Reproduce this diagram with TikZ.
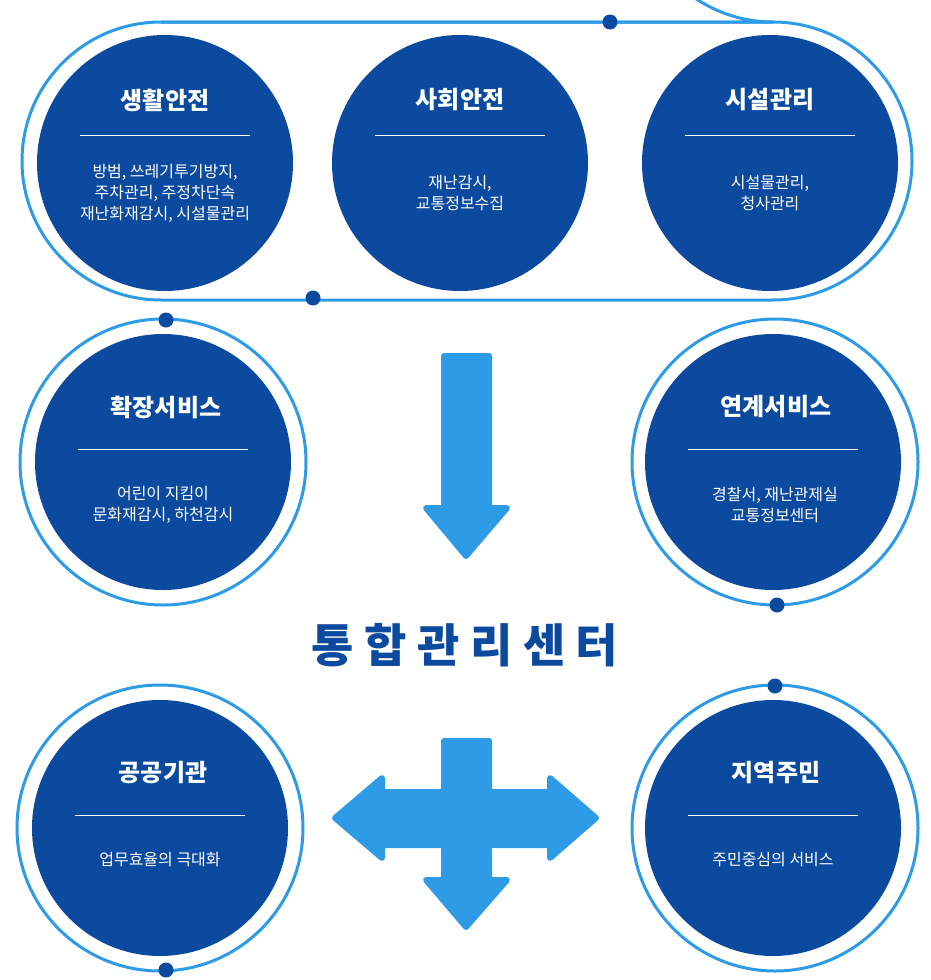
\documentclass[tikz,border=0pt]{standalone}
\usepackage{fontspec}
\setmainfont{Noto Sans CJK KR}
\newfontfamily\kb{Noto Sans CJK KR Bold}
\begin{document}
\begin{tikzpicture}[x=1pt,y=-1pt]
\definecolor{dblue}{HTML}{0B4A9E}
\definecolor{lblue}{HTML}{2E9BE6}
\tikzset{
 circ/.style={circle,fill=dblue,minimum size=256pt,inner sep=0pt},
 ring/.style={draw=lblue,line width=3pt},
 dot/.style={circle,fill=dblue,minimum size=15pt,inner sep=0pt},
 ttl/.style={text=white,font=\fontsize{24}{28}\bfseries},
 body/.style={text=white,font=\fontsize{16}{21}\selectfont,align=center},
 arr/.style={fill=lblue,draw=lblue,line width=6pt,line join=round},
}
\useasboundingbox (0,0) rectangle (930,980);
% top group
\draw[ring] (161,22) -- (773,22) arc[start angle=-90,end angle=90,radius=-139] ;
\draw[ring,rounded corners=139pt] (22,22) rectangle (912,300);
\foreach \n/\x/\t/\b in {a/165/생활안전/{방범, 쓰레기투기방지,\\주차관리, 주정차단속\\재난화재감시, 시설물관리},
  b/460/사회안전/{재난감시,\\교통정보수집}, c/770/시설관리/{시설물관리,\\청사관리}}{
 \node[circ] (\n) at (\x,163) {};
 \node[ttl] (\n t) at (\x,100) {\t};
 \draw[white,line width=0.6pt] (\x-85,135) -- (\x+85,135);
 \node[body] (\n b) at (\x,193) {\b};
}
\node[dot] (d1) at (610,22) {};
\node[dot] (d2) at (313,298) {};
% middle
\foreach \n/\x/\y/\rx/\t/\b in {l/163/462/163/확장서비스/{어린이 지킴이\\문화재감시, 하천감시},
  r/773/462/775/연계서비스/{경찰서, 재난관제실\\교통정보센터},
  bl/160/828/160/공공기관/{업무효율의 극대화},
  br/773/828/775/지역주민/{주민중심의 서비스}}{
 \draw[ring] (\rx,\y) circle (143);
 \node[circ] (\n) at (\x,\y) {};
 \node[ttl] (\n t) at (\x+3,\y-55) {\t};
 \draw[white,line width=0.6pt] (\x-85,\y-13) -- (\x+85,\y-13);
}
\node[body] (lb) at (163,505) {어린이 지킴이\\문화재감시, 하천감시};
\node[body] (rb) at (775,505) {경찰서, 재난관제실\\교통정보센터};
\node[body] (blb) at (160,860) {업무효율의 극대화};
\node[body] (brb) at (773,860) {주민중심의 서비스};
\node[dot] (d3) at (166,320) {};
\node[dot] (d4) at (777,605) {};
\node[dot] (d5) at (166,970) {};
\node[dot] (d6) at (775,686) {};
% title
\node[text=dblue,font=\fontsize{46}{50}\bfseries] (title) at (465,645) {통 합 관 리 센 터};
% down arrow
\draw[arr] (444,356) -- (489,356) -- (489,508) -- (507,508) -- (466,556) -- (426,508) -- (444,508) -- cycle;
% cross arrow
\draw[arr] (444,741) -- (489,741) -- (489,792) -- (550,792) -- (550,778) -- (596,818) -- (550,858) -- (550,845)
 -- (489,845) -- (489,880) -- (507,880) -- (466,927) -- (426,880) -- (444,880) -- (444,845) -- (382,845)
 -- (382,858) -- (335,818) -- (382,778) -- (382,792) -- (444,792) -- cycle;
\end{tikzpicture}
\end{document}
